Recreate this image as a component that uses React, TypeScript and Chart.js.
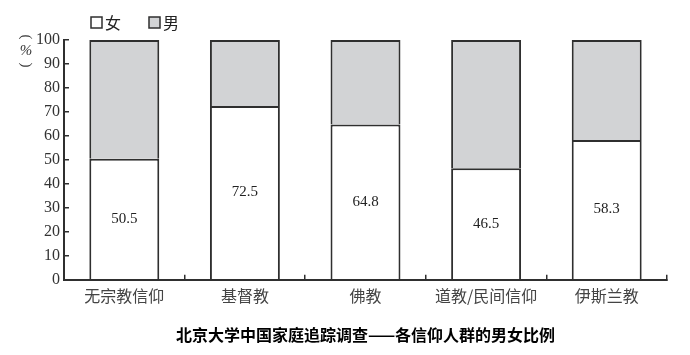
import React, { useEffect, useRef } from "react";
import { Chart, registerables } from "chart.js";

Chart.register(...registerables);

const categories = ["无宗教信仰", "基督教", "佛教", "道教/民间信仰", "伊斯兰教"];
const femaleValues = [50.5, 72.5, 64.8, 46.5, 58.3];
const maleValues = [49.5, 27.5, 35.2, 53.5, 41.7];
const seriesNames = ["女", "男"];
const yTicks = [0, 10, 20, 30, 40, 50, 60, 70, 80, 90, 100];
const yUnit = ["(", "%", ")"];
const chartTitle = "北京大学中国家庭追踪调查——各信仰人群的男女比例";

const GRAY = "#d2d3d5";
const DARK = "#2f2f2f";
const SERIF = "'Liberation Serif', 'DejaVu Serif', serif";
const CJK = "'Noto Sans CJK SC', 'Noto Sans', sans-serif";

const overlayPlugin = {
  id: "overlay",
  afterDraw(chart: any) {
    const ctx = chart.ctx;
    ctx.save();
    // data labels on female segment
    const meta = chart.getDatasetMeta(0);
    ctx.font = `15px ${SERIF}`;
    ctx.fillStyle = "#222";
    ctx.textAlign = "center";
    ctx.textBaseline = "middle";
    meta.data.forEach((bar: any, i: number) => {
      const v = chart.data.datasets[0].data[i];
      ctx.fillText(String(v), bar.x, (bar.y + bar.base) / 2);
    });
    // legend
    let lx = 91;
    const ly = 17;
    chart.data.datasets.forEach((ds: any) => {
      ctx.fillStyle = ds.backgroundColor;
      ctx.fillRect(lx, ly, 11, 11);
      ctx.strokeStyle = DARK;
      ctx.lineWidth = 1.5;
      ctx.strokeRect(lx, ly, 11, 11);
      ctx.fillStyle = "#222";
      ctx.font = `16px ${CJK}`;
      ctx.textAlign = "left";
      ctx.textBaseline = "middle";
      ctx.fillText(ds.label, lx + 14, ly + 5.5);
      lx += 58;
    });
    // y unit (vertical, parentheses turned sideways)
    ctx.fillStyle = "#333";
    ctx.textAlign = "center";
    ctx.textBaseline = "middle";
    const ys = [37, 51, 65];
    yUnit.forEach((ch, i) => {
      ctx.save();
      ctx.translate(26, ys[i]);
      if (ch !== "%") {
        ctx.font = `15px ${SERIF}`;
        ctx.rotate(Math.PI / 2);
      } else {
        ctx.font = `italic 15px ${SERIF}`;
      }
      ctx.fillText(ch, 0, 0);
      ctx.restore();
    });
    ctx.restore();
  },
};

export default function App() {
  const ref = useRef<HTMLCanvasElement>(null);
  useEffect(() => {
    if (!ref.current) return;
    const chart = new Chart(ref.current, {
      type: "bar",
      data: {
        labels: categories,
        datasets: [
          {
            label: seriesNames[0],
            data: femaleValues,
            backgroundColor: "#ffffff",
            borderColor: DARK,
            borderWidth: 2,
            borderSkipped: "start",
            categoryPercentage: 1,
            barPercentage: 0.58,
          },
          {
            label: seriesNames[1],
            data: maleValues,
            backgroundColor: GRAY,
            borderColor: DARK,
            borderWidth: 2,
            borderSkipped: "start",
            categoryPercentage: 1,
            barPercentage: 0.58,
          },
        ],
      },
      options: {
        responsive: false,
        animation: false,
        layout: { padding: { top: 40, right: 23, left: 0, bottom: 0 } },
        plugins: {
          legend: { display: false },
          tooltip: { enabled: false },
          title: {
            display: true,
            fullSize: false,
            text: chartTitle,
            position: "bottom",
            color: "#000",
            font: { size: 16, weight: "bold", family: CJK },
            padding: { top: 10, bottom: 10 },
          },
        },
        scales: {
          x: {
            stacked: true,
            grid: {
              drawOnChartArea: false,
              drawTicks: true,
              tickLength: -5,
              color: DARK,
              lineWidth: 1.5,
              offset: true,
            },
            border: { color: DARK, width: 2 },
            ticks: {
              color: "#444",
              padding: 12,
              font: { size: 16, family: CJK },
              maxRotation: 0,
            },
            afterFit(scale: any) {
              scale.height = 36;
            },
          },
          y: {
            stacked: true,
            min: 0,
            max: 100,
            afterBuildTicks(scale: any) {
              scale.ticks = yTicks.map((v) => ({ value: v }));
            },
            grid: {
              drawOnChartArea: false,
              drawTicks: true,
              tickLength: -5,
              color: DARK,
              lineWidth: 1.5,
            },
            border: { color: DARK, width: 2 },
            ticks: {
              color: "#333",
              padding: 9,
              font: { size: 16, family: SERIF },
            },
            afterFit(scale: any) {
              scale.width = 64;
            },
          },
        },
      },
      plugins: [overlayPlugin],
    } as any);
    return () => chart.destroy();
  }, []);
  return (
    <div style={{ position: "fixed", left: 0, top: 0, width: 690, height: 355, background: "#fff" }}>
      <canvas ref={ref} width={690} height={355} />
    </div>
  );
}
